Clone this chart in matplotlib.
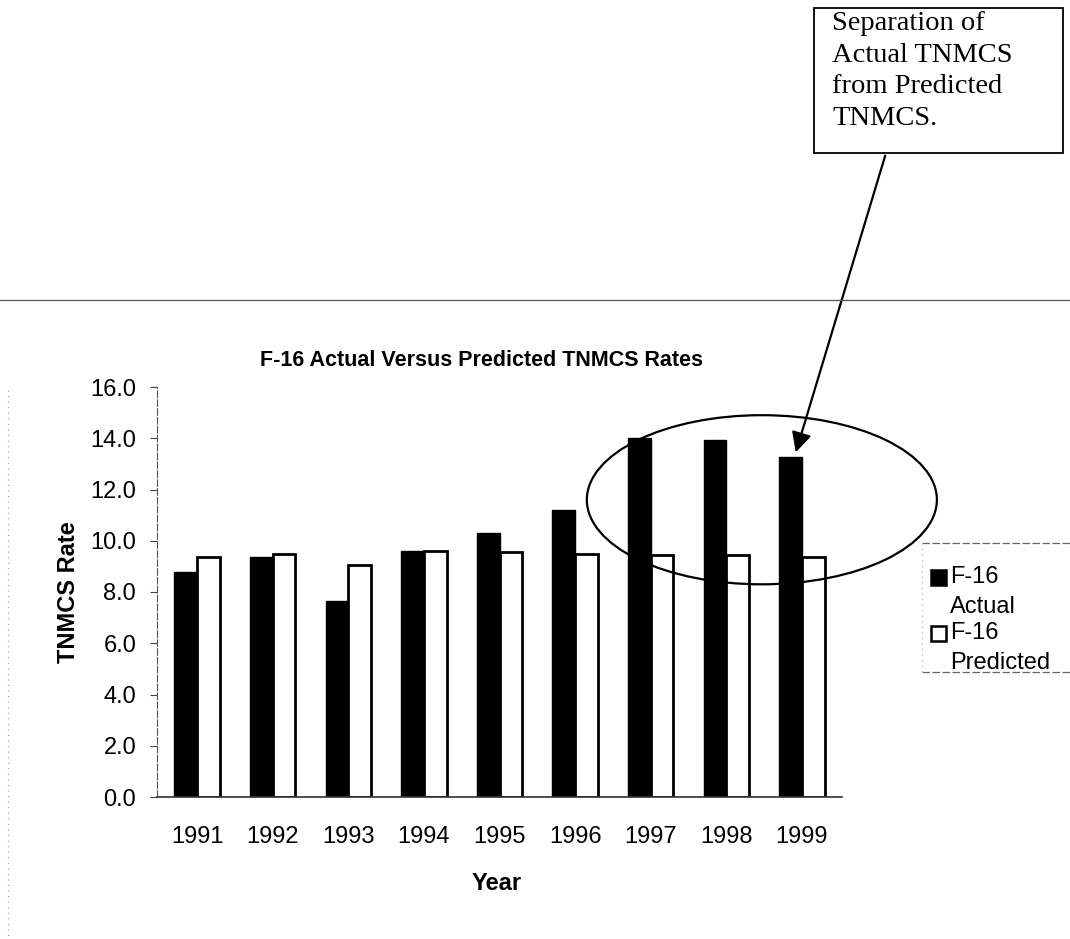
import numpy as np
import matplotlib.pyplot as plt
from matplotlib.patches import Ellipse, Rectangle
from matplotlib.lines import Line2D

years = ["1991", "1992", "1993", "1994", "1995", "1996", "1997", "1998", "1999"]
actual = [8.8, 9.35, 7.65, 9.6, 10.3, 11.2, 14.0, 13.95, 13.25]
predicted = [9.35, 9.5, 9.05, 9.6, 9.55, 9.5, 9.45, 9.45, 9.35]
yticks = [0, 2, 4, 6, 8, 10, 12, 14, 16]
series_names = ["F-16\nActual", "F-16\nPredicted"]

plt.rcParams['font.family'] = ['Liberation Sans', 'DejaVu Sans']

fig = plt.figure(figsize=(10.7, 9.39), dpi=100)
W, H = 1070.0, 939.0
def fx(px): return px / W
def fy(py): return 1 - py / H

ax = fig.add_axes([fx(157), fy(797), fx(842) - fx(157), fy(387) - fy(797)])
x = np.arange(len(years))
w = 0.3
ax.bar(x - w/2, actual, w, color='black', edgecolor='black', lw=1)
ax.bar(x + w/2, predicted, w, color='white', edgecolor='black', lw=2)

ax.set_xlim(-0.53, 8.53)
ax.set_ylim(0, 16)
ax.set_yticks(yticks)
ax.set_yticklabels(["%.1f" % v for v in yticks], fontsize=17)
ax.set_xticks(x)
ax.set_xticklabels(years, fontsize=17)
ax.tick_params(axis='x', length=0, pad=21)
ax.tick_params(axis='y', length=5, width=0.8, color='#444444', pad=10)
for s in ['top', 'right']:
    ax.spines[s].set_visible(False)
ax.spines['left'].set_color('#555555')
ax.spines['left'].set_linewidth(0.8)
ax.spines['left'].set_linestyle((0, (6, 2)))
ax.spines['bottom'].set_color('#333333')
ax.spines['bottom'].set_linewidth(1.2)
ax.set_ylabel("TNMCS Rate", fontsize=17, fontweight='bold')
ax.yaxis.set_label_coords((80 - 157) / 685.0, 0.5)
ax.set_xlabel("Year", fontsize=17, fontweight='bold')
ax.xaxis.set_label_coords((497 - 157) / 685.0, (797 - 872) / 410.0)
ax.text((481 - 157) / 685.0, (797 - 361) / 410.0, "F-16 Actual Versus Predicted TNMCS Rates",
        transform=ax.transAxes, fontsize=15.5, fontweight='bold', ha='center', va='center')

# legend, drawn by hand so the wrapped labels sit as in the original
for ly in [543, 672]:
    fig.add_artist(Line2D([fx(922), 1], [fy(ly), fy(ly)], color='#666666', lw=0.9,
                          ls=(0, (6, 2)), transform=fig.transFigure))
fig.add_artist(Line2D([fx(922), fx(922)], [fy(543), fy(672)], color='#aaaaaa', lw=0.8,
                      ls=(0, (1, 4)), transform=fig.transFigure))
faces = ['black', 'white']
rows = [577, 633]
for name, fc, ry in zip(series_names, faces, rows):
    fig.add_artist(Rectangle((fx(931), fy(ry + 8)), fx(946) - fx(931), fy(ry - 7) - fy(ry + 8),
                             facecolor=fc, edgecolor='black', lw=1.8, transform=fig.transFigure))
    first, second = name.split("\n")
    fig.text(fx(950), fy(ry), first, fontsize=17, ha='left', va='center')
    fig.text(fx(950), fy(ry + 30), second, fontsize=17, ha='left', va='center')

# ellipse around the separated years
ell = Ellipse((7.47, 11.6), 4.63, 6.6, fill=False, edgecolor='black', lw=1.6, clip_on=False)
ax.add_patch(ell)

# separator line across page and scan edge
fig.add_artist(Line2D([0, 1], [fy(300), fy(300)], color='#555555', lw=0.9, transform=fig.transFigure))
fig.add_artist(Line2D([fx(8), fx(8)], [fy(390), fy(939)], color='#999999', lw=0.8,
                      ls=(0, (1, 4)), transform=fig.transFigure))

# callout box
fig.add_artist(Rectangle((fx(814), fy(153)), fx(1063) - fx(814), fy(8) - fy(153), fill=False,
                         edgecolor='black', lw=1.3, transform=fig.transFigure))
fig.text(fx(832), fy(11), "Separation of\nActual TNMCS\nfrom Predicted\nTNMCS.", family='Liberation Serif',
         fontsize=20.5, va='top', ha='left', linespacing=1.35)
ax.annotate("", xy=(fx(795), fy(455)), xycoords='figure fraction',
            xytext=(fx(886), fy(153)), textcoords='figure fraction',
            arrowprops=dict(arrowstyle='-|>', color='black', lw=1.6, mutation_scale=30))

fig.savefig("out.png", dpi=100)
